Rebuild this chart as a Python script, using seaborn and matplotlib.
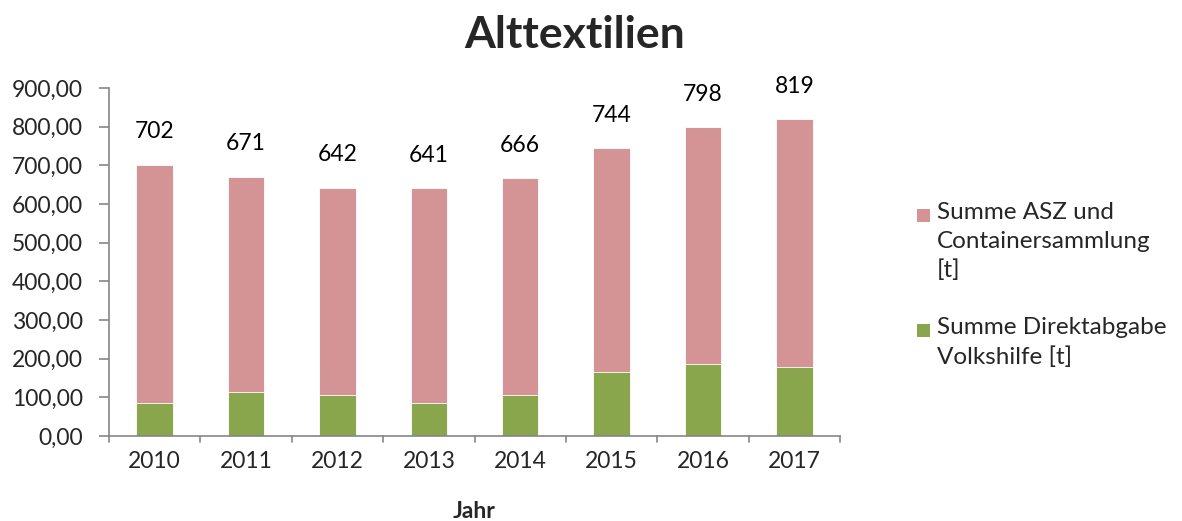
import matplotlib
matplotlib.use("Agg")
import matplotlib.pyplot as plt
import seaborn as sns
import pandas as pd
from matplotlib.patches import Rectangle

years = ["2010", "2011", "2012", "2013", "2014", "2015", "2016", "2017"]
totals = [702, 671, 642, 641, 666, 744, 798, 819]
direkt = [85, 113, 105, 85, 105, 165, 185, 178]

series_asz = "Summe ASZ und\nContainersammlung\n[t]"
series_direkt = "Summe Direktabgabe\nVolkshilfe [t]"
title = "Alttextilien"
xlabel = "Jahr"
yticks = [0, 100, 200, 300, 400, 500, 600, 700, 800, 900]

pink = "#D49394"
green = "#8AA64D"
axis_col = "#868686"

sns.set_theme(style="white")
plt.rcParams['font.family'] = ['Lato', 'DejaVu Sans']

df = pd.DataFrame({"Jahr": years, "total": totals, "direkt": direkt})

W, H = 1182, 521
fig = plt.figure(figsize=(W/100, H/100), dpi=100)
ax = fig.add_axes([109/W, 1 - 436/H, (840-109)/W, (436-88)/H])

sns.barplot(data=df, x="Jahr", y="total", color=pink, width=0.4, ax=ax,
            saturation=1, edgecolor="white", linewidth=0.6, order=years)
sns.barplot(data=df, x="Jahr", y="direkt", color=green, width=0.4, ax=ax,
            saturation=1, edgecolor="white", linewidth=0.6, order=years)

ax.set_ylim(0, 900)
ax.set_xlim(-0.5, len(years) - 0.5)
ax.set_yticks(yticks)
ax.set_yticklabels([f"{v:.2f}".replace(".", ",") for v in yticks], fontsize=16.5)

ax.set_xticks(list(range(len(years))))
ax.set_xticklabels(years, fontsize=16.5)
ax.tick_params(axis="x", length=0, pad=11)
for b in [i - 0.5 for i in range(len(years) + 1)]:
    ax.plot([b, b], [0, -0.018], transform=ax.get_xaxis_transform(),
            color=axis_col, lw=1.2, clip_on=False)
ax.tick_params(axis="y", length=7, width=1.2, color=axis_col, direction="out", left=True, pad=12)

for s in ["top", "right"]:
    ax.spines[s].set_visible(False)
for s in ["left", "bottom"]:
    ax.spines[s].set_color(axis_col)
    ax.spines[s].set_linewidth(1.2)

for i, t in enumerate(totals):
    ax.annotate(str(t), xy=(i, t), xytext=(0, 33), textcoords="offset pixels",
                ha="center", va="center", fontsize=16.5, color="black")

ax.set_xlabel(xlabel, fontsize=16.5, fontweight="bold", labelpad=21)
ax.set_ylabel("")
fig.text(575/W, 1 - 35/H, title, ha="center", va="center", fontsize=32, fontweight="bold")

# legend (drawn manually to mimic first-line aligned markers)
entries = [(pink, series_asz, 215), (green, series_direkt, 330)]
for col, lab, ycen in entries:
    fig.patches.append(Rectangle((917/W, 1 - (ycen + 7)/H), 13/W, 13/H,
                                 transform=fig.transFigure, facecolor=col, edgecolor="none"))
    fig.text(937/W, 1 - (ycen - 13)/H, lab, ha="left", va="top", fontsize=17.5,
             linespacing=1.45)

fig.savefig("out.png", dpi=100)
